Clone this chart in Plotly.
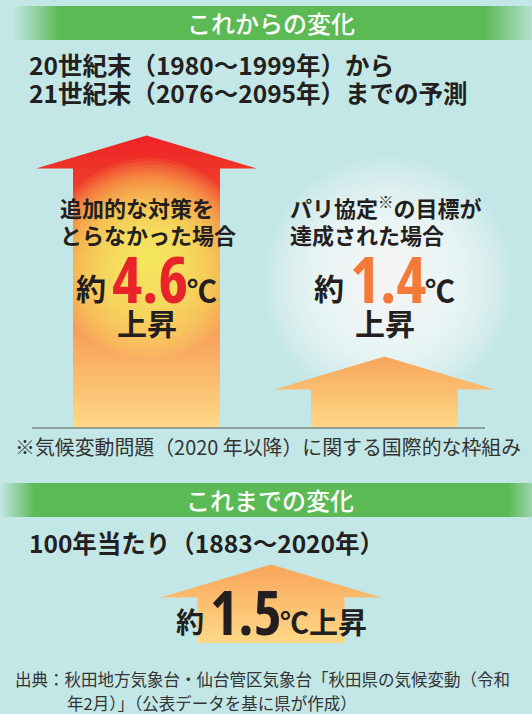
import numpy as np
import plotly.graph_objects as go

W, H = 532, 714
BG = "#c3e7e6"
GREEN = "#5cba55"
INK = "#231f20"
JP = "Noto Sans CJK JP"
NUM = "Open Sans, Noto Sans CJK JP"

# --- data ---
section_titles = ["これからの変化", "これまでの変化"]
future_period = ["20世紀末（1980～1999年）から", "21世紀末（2076～2095年）までの予測"]
scenarios = [["追加的な対策を", "とらなかった場合"],
             ["パリ協定<sup>※</sup>の目標が", "達成された場合"]]
future_rise = [4.6, 1.4]
future_colors = ["#e8242a", "#f47a3a"]
past_period = "100年当たり（1883～2020年）"
past_rise = [1.5]
footnote = "※気候変動問題（2020 年以降）に関する国際的な枠組み"
source = ["出典：秋田地方気象台・仙台管区気象台「秋田県の気候変動（令和",
          "年2月）」（公表データを基に県が作成）"]


def rise_px(v):
    # arrow height on the page for a temperature rise
    return 69 * v - 25


def arrow(cx, base, value, colorscale):
    tip = base - rise_px(value)
    neck = tip + 33
    xs = [cx - 73.5, cx - 73.5, cx - 110.5, cx, cx + 110.5, cx + 73.5, cx + 73.5, cx - 73.5]
    ys = [base, neck, neck, tip, neck, neck, base, base]
    return go.Scatter(x=xs, y=ys, mode="none", fill="toself", hoverinfo="skip",
                      fillgradient=dict(type="vertical", start=tip, stop=base, colorscale=colorscale))


def banner(x0, x1, y0, y1, fade_l, fade_r, end_alpha):
    g = "rgba(92,186,85,%s)"
    return go.Scatter(x=[x0, x1, x1, x0, x0], y=[y0, y0, y1, y1, y0], mode="none", fill="toself",
                      hoverinfo="skip",
                      fillgradient=dict(type="horizontal", start=x0, stop=x1,
                                        colorscale=[[0, g % 0], [fade_l, GREEN], [fade_r, GREEN], [1, g % end_alpha]]))


def glow(cx, cy, r, rgb, n, a, xlim=None):
    out = []
    t = np.linspace(0, 2 * np.pi, 90)
    for i in range(n):
        rr = r * (n - i) / n
        xs = cx + rr * np.cos(t)
        ys = cy + rr * np.sin(t)
        if xlim:
            xs = np.clip(xs, *xlim)
        out.append(go.Scatter(x=xs, y=ys, mode="none", fill="toself", hoverinfo="skip",
                              fillcolor="rgba(%d,%d,%d,%s)" % (rgb + (a,))))
    return out


def txt(x, y, s, size, color=INK, anchor="center", weight="bold", family=JP):
    return dict(x=x, y=y, xref="x", yref="y", text=s, showarrow=False, xanchor=anchor,
                yanchor="middle", font=dict(family=family, size=size, color=color, weight=weight))


def num(v):
    # condensed figures like the original artwork
    return '<span style="font-stretch:condensed">%.1f</span>' % v


fig = go.Figure()

fig.add_trace(banner(13, 532, 6, 40, 0.09, 0.91, 0.15))
fig.add_trace(banner(0, 532, 483, 517, 0.065, 0.955, 0.4))

hot = [[0, "#ee2226"], [0.15, "#ef3a2a"], [0.45, "#f47b40"], [0.75, "#f9ad62"], [1, "#fed987"]]
warm = [[0, "#f8a55b"], [1, "#fed987"]]

centers = [146.5, 384.5]
fig.add_trace(arrow(centers[0], 428, future_rise[0], hot))
for tr in glow(149, 258, 100, (255, 243, 110), 30, 0.085, xlim=(73, 220)):
    fig.add_trace(tr)
for tr in glow(388, 282, 125, (255, 255, 255), 30, 0.08):
    fig.add_trace(tr)
fig.add_trace(arrow(centers[1], 428, future_rise[1], warm))
fig.add_trace(arrow(271, 643, past_rise[0], warm))

ann = [
    txt(271, 22, section_titles[0], 24, "white", weight=500),
    txt(27, 64.5, future_period[0], 24.5, anchor="left"),
    txt(27, 92, future_period[1], 24.5, anchor="left"),
    txt(270, 499, section_titles[1], 24, "white", weight=500),
    txt(27, 542.5, past_period, 24.5, anchor="left"),
    txt(13, 446, footnote, 19.9, "#333333", anchor="left", weight="normal"),
    txt(13, 679, source[0], 16.5, "#333333", anchor="left", weight="normal"),
    txt(65, 703, source[1], 16.5, "#333333", anchor="left", weight="normal"),
]
label_x = [58, 288]
for i, cx in enumerate(centers):
    ann.append(txt(label_x[i], 206.5, scenarios[i][0], 22, anchor="left"))
    ann.append(txt(label_x[i], 233.5, scenarios[i][1], 22, anchor="left"))
    ann.append(txt(cx - 56, 287, "約", 30))
    ann.append(txt(cx + 3, 278, num(future_rise[i]), 64, future_colors[i], family=NUM))
    ann.append(txt(cx + 55.5, 289, "℃", 30))
    ann.append(txt(cx, 322, "上昇", 30))

ann.append(txt(190, 621, "約", 28))
ann.append(txt(246, 611.5, num(past_rise[0]), 60, INK, family=NUM))
ann.append(txt(323, 621, "℃上昇", 29))

fig.update_layout(
    width=W, height=H, margin=dict(l=0, r=0, t=0, b=0),
    paper_bgcolor=BG, plot_bgcolor=BG, showlegend=False,
    xaxis=dict(range=[0, W], visible=False, fixedrange=True),
    yaxis=dict(range=[H, 0], visible=False, fixedrange=True),
    annotations=ann,
    shapes=[dict(type="line", x0=32, x1=485, y0=428, y1=428, xref="x", yref="y",
                 line=dict(color="#7f8888", width=1.5))],
)

fig.write_html("out.html", config=dict(displayModeBar=False),
               post_script="document.body.style.margin='0';document.body.style.overflow='hidden';")
